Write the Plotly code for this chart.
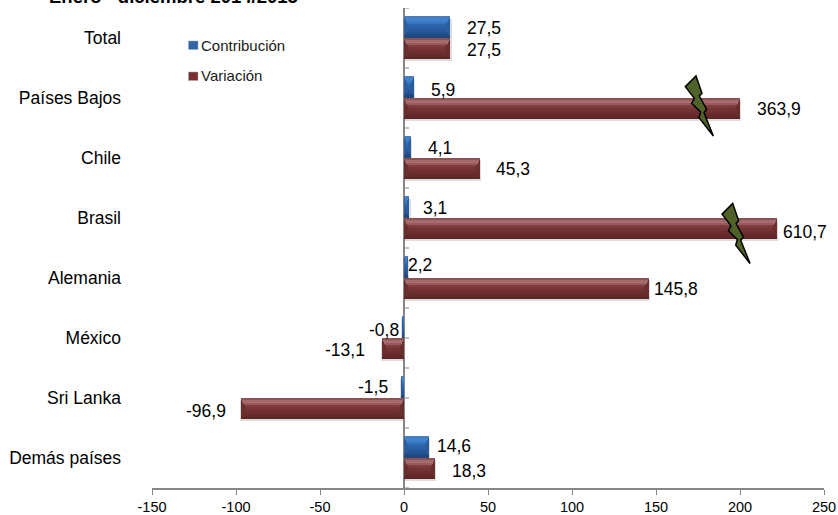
import plotly.graph_objects as go

categories = ["Total", "Países Bajos", "Chile", "Brasil", "Alemania", "México", "Sri Lanka", "Demás países"]
contribucion = [27.5, 5.9, 4.1, 3.1, 2.2, -0.8, -1.5, 14.6]
variacion = [27.5, 363.9, 45.3, 610.7, 145.8, -13.1, -96.9, 18.3]
# Variación bar lengths as drawn: the two largest are cut short (marked by the lightning bolts)
variacion_drawn = [27.5, 200, 45.3, 222, 145.8, -13.1, -96.9, 18.3]
x_ticks = [-150, -100, -50, 0, 50, 100, 150, 200, 250]

W, H = 838, 515
L, R, T, B = 152, 824, 8, 488
GREY = "#868686"
FONT = "Liberation Sans, Arial, sans-serif"

BLUE_BANDS = ["#4a7cb8", "#3f82cf", "#3d80cc", "#3674bd", "#2c66ad", "#2a62a8", "#285da1", "#265899", "#235290", "#214d88", "#1f4880"]
RED_BANDS = ["#8a5253", "#a46a6b", "#a96f70", "#9a5a5b", "#7f3d3d", "#793737", "#733333", "#6e302f", "#692d2c", "#642a29", "#5c2726"]
BLUE_END, RED_END = "#2b5e9f", "#6a2e2e"

label_dx_c = [16, 16, 16, 13, -1, -3, -12, 7]
label_dy_c = [1, 3, 1, 1, -2, 3, 0, -1]
label_dx_v = [16, 16, 15, 5, 4, -16, -14, 16]
label_dy_v = [1, 0, 0, 3, 0, 1, 2, 2]

fig = go.Figure()
ypos = list(range(len(categories)))
UNIT_PER_PX = 400 / (R - L)


def add_series(values, offset, width, bands, end, name):
    fig.add_trace(go.Bar(y=ypos, x=[v + (0.8 if v > 0 else -0.8) for v in values], orientation="h", base=0,
                         offset=offset + 0.04, width=width,
                         marker=dict(color="rgba(100,100,100,0.22)", line=dict(width=0)),
                         showlegend=False, hoverinfo="skip"))
    fig.add_trace(go.Bar(y=ypos, x=values, orientation="h", base=0, offset=offset, width=width,
                         marker=dict(color=end, line=dict(width=0)), name=name, showlegend=False))
    n = len(bands)
    for i, c in enumerate(bands):
        inset_px = min(i, n - 1 - i)
        bases, lengths = [], []
        for v in values:
            s = 1 if v > 0 else -1
            ins = min(inset_px * UNIT_PER_PX, abs(v) * 0.35)
            bases.append(s * ins)
            lengths.append(v - 2 * s * ins)
        fig.add_trace(go.Bar(y=ypos, x=lengths, orientation="h", base=bases,
                             offset=offset + width * i / n, width=width / n + 0.002,
                             marker=dict(color=c, line=dict(width=0)),
                             showlegend=False, hoverinfo="skip"))


add_series(contribucion, -0.365, 0.355, BLUE_BANDS, BLUE_END, "Contribución")
add_series(variacion_drawn, -0.005, 0.35, RED_BANDS, RED_END, "Variación")

annotations = []


def fmt(v):
    return f"{v:.1f}".replace(".", ",")


def add_labels(drawn, shown, dxs, dys, off):
    for i, (d, s, dx, dy) in enumerate(zip(drawn, shown, dxs, dys)):
        annotations.append(dict(x=d, y=i + off, xref="x", yref="y", text=fmt(s), showarrow=False,
                                xanchor="left" if d >= 0 else "right", xshift=dx, yshift=-dy,
                                borderpad=0, font=dict(family=FONT, size=17.5, color="#000000")))


add_labels(contribucion, contribucion, label_dx_c, label_dy_c, -0.18)
add_labels(variacion_drawn, variacion, label_dx_v, label_dy_v, 0.175)


def px(x):
    return (x - L) / (R - L)


def py(y):
    return 1 - (y - T) / (B - T)


for label, top in (("Contribución", 45), ("Variación", 76)):
    annotations.append(dict(x=px(200), y=py(top), xref="paper", yref="paper", text=label, showarrow=False,
                            xanchor="left", yanchor="middle", borderpad=0,
                            font=dict(family=FONT, size=15, color="#1a1a1a")))

annotations.append(dict(x=px(48), y=py(8), xref="paper", yref="paper", text="<b>Enero - diciembre 2014/2015</b>",
                        showarrow=False, xanchor="left", yanchor="bottom", borderpad=0,
                        font=dict(family=FONT, size=18.5, color="#000000")))

shapes = []
# tick marks on the vertical zero axis
for v in [i * 0.5 - 0.5 for i in range(17)]:
    shapes.append(dict(type="line", xref="x", yref="y", x0=0, x1=3, y0=v, y1=v,
                       line=dict(color=GREY, width=1), layer="below"))

# legend swatches
for color, cy in (("#2f66a8", 45), ("#7a3030", 76)):
    shapes.append(dict(type="rect", xref="paper", yref="paper", x0=px(188.5), x1=px(198), y0=py(cy + 4.5), y1=py(cy - 4),
                       fillcolor=color, line=dict(color="#9aa7b8", width=0.5), layer="above"))

BOLT = [(168, 18), (186, 70), (178, 78), (200, 118), (192, 128), (220, 198),
        (177, 143), (182, 126), (155, 100), (163, 85), (136, 50)]
for ox, oy in ((640, 70), (676.7, 197.5)):
    pts = [(ox + a / 3, oy + b / 3) for a, b in BOLT]
    path = "M " + " L ".join(f"{px(a):.5f},{py(b):.5f}" for a, b in pts) + " Z"
    shapes.append(dict(type="path", xref="paper", yref="paper", path=path, fillcolor="#4f6228",
                       line=dict(color="#000000", width=1.5), layer="above"))

fig.update_layout(
    width=W, height=H, autosize=False,
    margin=dict(l=L, r=W - R, t=T, b=H - B, pad=0, autoexpand=False),
    paper_bgcolor="#ffffff", plot_bgcolor="#ffffff",
    barmode="overlay", bargap=0,
    showlegend=False,
    font=dict(family=FONT, color="#000000"),
    xaxis=dict(range=[-150, 250], tickmode="array", tickvals=x_ticks, ticktext=[str(t) for t in x_ticks],
               automargin=False,
               showgrid=False, zeroline=True, zerolinecolor=GREY, zerolinewidth=1.5,
               showline=True, linecolor=GREY, linewidth=1.5, ticks="outside", ticklen=5, tickcolor=GREY,
               tickfont=dict(family=FONT, size=14.5, color="#000000")),
    yaxis=dict(range=[7.5, -0.5], tickmode="array", tickvals=ypos, ticktext=categories,
               automargin=False,
               showgrid=False, zeroline=False, showline=False, ticks="", ticklabelstandoff=30,
               tickfont=dict(family=FONT, size=17.5, color="#000000")),
    annotations=annotations,
    shapes=shapes,
)

fig.write_html("out.html", config=dict(displayModeBar=False),
               post_script="document.body.style.margin='0';document.documentElement.style.overflow='hidden';")
